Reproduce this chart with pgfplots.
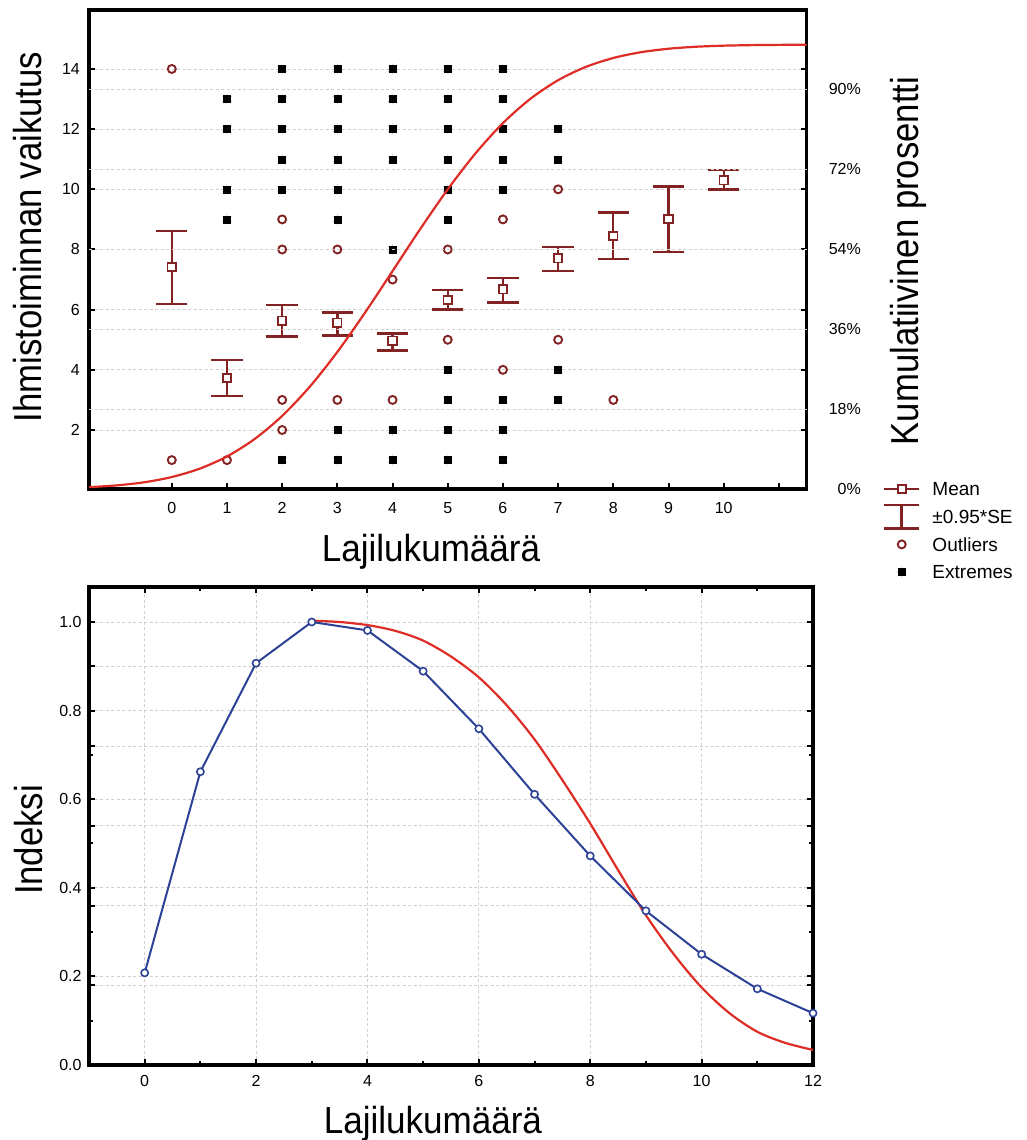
\documentclass[border=0pt]{standalone}
\usepackage{pgfplots}
\pgfplotsset{compat=1.18}
\usepackage{fontspec}
\setmainfont{Liberation Sans}
\newfontfamily\labH{Liberation Sans}[FakeStretch=0.93]
\newfontfamily\labV{Liberation Sans}[FakeStretch=0.89]
\definecolor{meanred}{RGB}{130,34,34}
\definecolor{curvered}{RGB}{222,45,38}
\definecolor{lineblue}{RGB}{44,66,150}
\definecolor{gridgray}{RGB}{208,208,208}
\pgfplotsset{
  frame/.style={
    scale only axis,
    axis line style={line width=3.5pt, black},
    tick align=inside,
    major tick length=6pt, minor tick length=4pt,
    tick style={black, line width=2pt},
    grid style={gridgray, line width=0.8pt, dash pattern=on 3pt off 2.5pt},
    tick label style={font=\fontsize{16}{16}\selectfont, inner sep=0pt},
    /pgf/number format/assume math mode=true,
    clip=false,
  },
}
\begin{document}
\begin{tikzpicture}
\useasboundingbox (0pt,0pt) rectangle (1026pt,1140pt);
% ---------------- top: left scale ----------------
\begin{axis}[frame,
  at={(89pt,651pt)}, anchor=south west, width=717.5pt, height=479pt,
  xmin=-1.5, xmax=11.5, ymin=0.04, ymax=15.96,
  xtick={0,...,11}, xticklabels={0,1,2,3,4,5,6,7,8,9,10,{}},
  xtick pos=left, ytick pos=both,
  ytick={2,4,...,14},
  ymajorgrids,
  xticklabel style={yshift=-13pt},
  yticklabel style={xshift=-9pt},
  xlabel={Lajilukumäärä}, ylabel={Ihmistoiminnan vaikutus},
  every axis x label/.style={at={(rel axis cs:0.4767,-0.1524)}, anchor=base, inner sep=0pt, font=\labH\fontsize{37.7}{37.7}\selectfont},
  every axis y label/.style={at={(rel axis cs:-0.0655,0.526)}, rotate=90, anchor=base, inner sep=0pt, font=\labV\fontsize{39}{39}\selectfont},
  legend cell align=left,
  legend style={at={(rel axis cs:1.1066,0.0289)}, anchor=north west, draw=none, fill=none,
    inner sep=0pt, outer sep=0pt, row sep=0pt, column sep=12pt,
    font=\fontsize{19}{19}\selectfont,
    nodes={inner sep=0pt, text height=20.65pt, text depth=7.05pt}},
]
\addlegendimage{legend image code/.code={
  \draw[meanred, line width=2.5pt] (0pt,0pt) -- (35pt,0pt);
  \draw[meanred, line width=1.8pt, fill=white] (13.4pt,-4.1pt) rectangle (21.6pt,4.1pt);}}
\addlegendentry{Mean}
\addlegendimage{legend image code/.code={
  \draw[meanred, line width=2.5pt] (17.5pt,-11.7pt) -- (17.5pt,11.7pt) (0pt,11.7pt) -- (35pt,11.7pt) (0pt,-11.7pt) -- (35pt,-11.7pt);}}
\addlegendentry{±0.95*SE}
\addlegendimage{legend image code/.code={
  \draw[meanred, line width=1.9pt] (17.5pt,0pt) circle (4pt);}}
\addlegendentry{Outliers}
\addlegendimage{legend image code/.code={
  \draw[gray!50, line width=0.5pt] (12pt,0pt) -- (23pt,0pt) (17.5pt,-5.5pt) -- (17.5pt,5.5pt) (13.5pt,-4pt) -- (21.5pt,4pt) (13.5pt,4pt) -- (21.5pt,-4pt);
  \fill[black] (14pt,-3.5pt) rectangle (21pt,3.5pt);}}
\addlegendentry{Extremes}
% extremes
\addplot[only marks, mark=asterisk, mark size=5.5pt, gray!50, line width=0.5pt, forget plot] coordinates {
 (1,13) (1,12) (1,10) (1,9)
 (2,14) (2,13) (2,12) (2,11) (2,10) (2,1)
 (3,14) (3,13) (3,12) (3,11) (3,10) (3,9) (3,2) (3,1)
 (4,14) (4,13) (4,12) (4,11) (4,8) (4,2) (4,1)
 (5,14) (5,13) (5,12) (5,11) (5,10) (5,9) (5,4) (5,3) (5,2) (5,1)
 (6,14) (6,13) (6,12) (6,11) (6,10) (6,3) (6,2) (6,1)
 (7,12) (7,11) (7,4) (7,3)};
\addplot[only marks, mark=square*, mark size=3.5pt, black, forget plot] coordinates {
 (1,13) (1,12) (1,10) (1,9)
 (2,14) (2,13) (2,12) (2,11) (2,10) (2,1)
 (3,14) (3,13) (3,12) (3,11) (3,10) (3,9) (3,2) (3,1)
 (4,14) (4,13) (4,12) (4,11) (4,8) (4,2) (4,1)
 (5,14) (5,13) (5,12) (5,11) (5,10) (5,9) (5,4) (5,3) (5,2) (5,1)
 (6,14) (6,13) (6,12) (6,11) (6,10) (6,3) (6,2) (6,1)
 (7,12) (7,11) (7,4) (7,3)};
% outliers
\addplot[only marks, mark=o, mark size=4pt, meanred, line width=1.9pt, forget plot] coordinates {
 (0,14) (0,1) (1,1) (2,9) (2,8) (2,3) (2,2) (3,8) (3,3) (4,7) (4,3)
 (5,8) (5,5) (6,9) (6,4) (7,10) (7,5) (8,3)};
% means with +-0.95*SE
\addplot[only marks, mark=square*, mark size=4.2pt, meanred,
  mark options={fill=white, line width=1.8pt}, forget plot,
  error bars/.cd, y dir=both, y explicit,
  error bar style={line width=2.3pt, meanred},
  error mark options={rotate=90, mark size=15.7pt, line width=2.5pt, meanred}]
  table[x=x, y=y, y error plus=ep, y error minus=em] {
x y ep em
0 7.42 1.20 1.23
1 3.73 0.60 0.60
2 5.63 0.53 0.53
3 5.57 0.34 0.43
4 4.97 0.23 0.33
5 6.32 0.33 0.31
6 6.68 0.38 0.45
7 7.71 0.37 0.42
8 8.45 0.78 0.77
9 9.01 1.08 1.10
10 10.30 0.34 0.30
};
\end{axis}
% ---------------- top: right scale (cumulative %) ----------------
\begin{axis}[frame,
  at={(89pt,651pt)}, anchor=south west, width=717.5pt, height=479pt,
  xmin=-1.5, xmax=11.5, ymin=0, ymax=107.8,
  axis x line=none, axis y line*=right, y axis line style={draw=none},
  ytick={18,36,54,72,90}, yticklabels={18\%,36\%,54\%,72\%,90\%},
  extra y ticks={0}, extra y tick labels={0\%}, extra y tick style={grid=none},
  major tick length=0pt,
  ymajorgrids,
  yticklabel style={anchor=east, xshift=54.5pt},
  ylabel={Kumulatiivinen prosentti},
  every axis y label/.style={at={(rel axis cs:1.1554,0.476)}, rotate=90, anchor=base, inner sep=0pt, font=\labV\fontsize{39}{39}\selectfont},
]
\addplot[curvered, line width=2.2pt, smooth] coordinates {
 (-1.5,0.41) (-1,0.81) (-0.5,1.51) (0,2.69) (0.5,4.55) (1,7.32) (1.5,11.24)
 (2,16.45) (2.5,23.02) (3,30.85) (3.5,39.67) (4,49.05) (4.5,58.48) (5,67.44)
 (5.5,75.49) (6,82.35) (6.5,87.84) (7,92.00) (7.5,94.98) (8,97.00) (8.5,98.30)
 (9,99.08) (9.5,99.53) (10,99.77) (10.5,99.89) (11,99.95) (11.5,99.98)};
\end{axis}
% ---------------- bottom ----------------
\begin{axis}[frame,
  at={(89pt,75pt)}, anchor=south west, width=724pt, height=478pt,
  xmin=-1, xmax=12, ymin=0, ymax=1.079,
  xtick={0,2,...,12}, minor x tick num=1,
  ytick={0,0.2,0.4,0.6,0.8,1.0}, minor y tick num=1,
  extra y ticks={0.18,0.36,0.54,0.72,0.90}, extra y tick labels={},
  extra y tick style={grid=major},
  xmajorgrids, ymajorgrids,
  xticklabel style={yshift=-10.6pt},
  yticklabel style={xshift=-7.3pt, /pgf/number format/.cd, fixed, fixed zerofill, precision=1},
  xlabel={Lajilukumäärä}, ylabel={Indeksi},
  every axis x label/.style={at={(rel axis cs:0.475,-0.1423)}, anchor=base, inner sep=0pt, font=\labH\fontsize{37.7}{37.7}\selectfont},
  every axis y label/.style={at={(rel axis cs:-0.0649,0.4707)}, rotate=90, anchor=base, inner sep=0pt, font=\labV\fontsize{39}{39}\selectfont},
]
\addplot[curvered, line width=2.2pt, smooth] coordinates {
 (3,1.003) (3.5,1.0) (4,0.993) (4.5,0.980) (5,0.958) (5.5,0.922) (6,0.875)
 (6.5,0.812) (7,0.735) (7.5,0.643) (8,0.545) (8.5,0.440) (9,0.338) (9.5,0.250)
 (10,0.175) (10.5,0.117) (11,0.075) (11.5,0.050) (12,0.034)};
\addplot[lineblue, line width=2pt, mark=*, mark size=3.6pt, mark options={fill=white, line width=1.6pt}] coordinates {
 (0,0.208) (1,0.662) (2,0.907) (3,1.0) (4,0.981) (5,0.889) (6,0.759)
 (7,0.611) (8,0.472) (9,0.348) (10,0.250) (11,0.172) (12,0.117)};
\end{axis}
\end{tikzpicture}
\end{document}
